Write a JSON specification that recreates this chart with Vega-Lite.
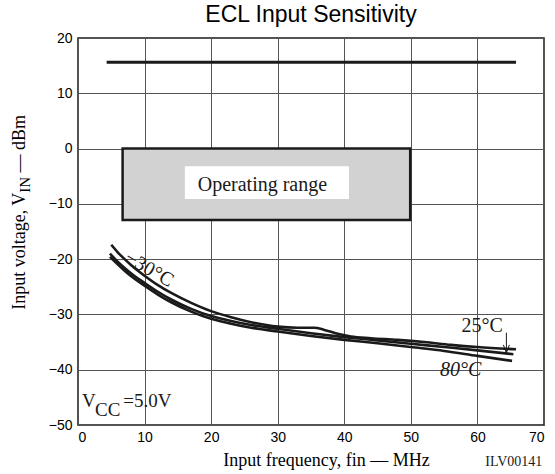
{
  "$schema": "https://vega.github.io/schema/vega-lite/v6.json",
  "width": 466,
  "height": 387,
  "autosize": {"type": "none"},
  "padding": {"left": 78, "top": 38, "right": 11, "bottom": 49},
  "background": "white",
  "title": {"text": "ECL Input Sensitivity", "font": "Liberation Sans", "fontSize": 23, "fontWeight": "normal", "color": "black", "anchor": "middle", "offset": 4},
  "config": {
    "view": {"stroke": "#1a1a1a", "strokeWidth": 1.5},
    "axis": {"domain": false, "ticks": false, "grid": true, "gridColor": "#555555", "gridWidth": 1, "gridOpacity": 1, "labelFont": "Liberation Sans", "labelFontSize": 14, "labelColor": "black"}
  },
  "datasets": {
    "curves": [
      {"f": 5, "v": -17.4, "s": "m30"}, {"f": 6, "v": -18.8, "s": "m30"}, {"f": 7, "v": -20.0, "s": "m30"}, {"f": 8, "v": -21.1, "s": "m30"}, {"f": 10, "v": -23.0, "s": "m30"}, {"f": 12, "v": -24.7, "s": "m30"}, {"f": 14, "v": -26.1, "s": "m30"}, {"f": 17, "v": -27.9, "s": "m30"}, {"f": 20, "v": -29.4, "s": "m30"}, {"f": 23, "v": -30.5, "s": "m30"}, {"f": 26, "v": -31.4, "s": "m30"}, {"f": 30, "v": -32.2, "s": "m30"}, {"f": 33, "v": -32.4, "s": "m30"}, {"f": 35.5, "v": -32.4, "s": "m30"}, {"f": 37, "v": -32.8, "s": "m30"}, {"f": 39, "v": -33.5, "s": "m30"}, {"f": 41, "v": -34.0, "s": "m30"}, {"f": 44, "v": -34.3, "s": "m30"}, {"f": 48, "v": -34.6, "s": "m30"}, {"f": 52, "v": -35.0, "s": "m30"}, {"f": 56, "v": -35.5, "s": "m30"}, {"f": 60, "v": -35.9, "s": "m30"}, {"f": 65.8, "v": -36.3, "s": "m30"},
      {"f": 4.8, "v": -19.0, "s": "p25"}, {"f": 6, "v": -20.5, "s": "p25"}, {"f": 7, "v": -21.6, "s": "p25"}, {"f": 8, "v": -22.6, "s": "p25"}, {"f": 10, "v": -24.3, "s": "p25"}, {"f": 12, "v": -25.9, "s": "p25"}, {"f": 14, "v": -27.3, "s": "p25"}, {"f": 17, "v": -29.0, "s": "p25"}, {"f": 20, "v": -30.3, "s": "p25"}, {"f": 23, "v": -31.2, "s": "p25"}, {"f": 26, "v": -31.9, "s": "p25"}, {"f": 30, "v": -32.6, "s": "p25"}, {"f": 35, "v": -33.4, "s": "p25"}, {"f": 40, "v": -34.1, "s": "p25"}, {"f": 45, "v": -34.7, "s": "p25"}, {"f": 50, "v": -35.3, "s": "p25"}, {"f": 55, "v": -35.9, "s": "p25"}, {"f": 60, "v": -36.5, "s": "p25"}, {"f": 65.4, "v": -37.2, "s": "p25"},
      {"f": 4.8, "v": -19.6, "s": "p80"}, {"f": 6, "v": -21.0, "s": "p80"}, {"f": 7, "v": -22.1, "s": "p80"}, {"f": 8, "v": -23.1, "s": "p80"}, {"f": 10, "v": -24.8, "s": "p80"}, {"f": 12, "v": -26.4, "s": "p80"}, {"f": 14, "v": -27.8, "s": "p80"}, {"f": 17, "v": -29.5, "s": "p80"}, {"f": 20, "v": -30.8, "s": "p80"}, {"f": 23, "v": -31.7, "s": "p80"}, {"f": 26, "v": -32.4, "s": "p80"}, {"f": 30, "v": -33.1, "s": "p80"}, {"f": 35, "v": -33.9, "s": "p80"}, {"f": 40, "v": -34.6, "s": "p80"}, {"f": 45, "v": -35.2, "s": "p80"}, {"f": 50, "v": -35.9, "s": "p80"}, {"f": 55, "v": -36.6, "s": "p80"}, {"f": 60, "v": -37.5, "s": "p80"}, {"f": 65.2, "v": -38.4, "s": "p80"}
    ]
  },
  "layer": [
    {
      "data": {"values": [{"x1": 6.7, "x2": 49.9, "y1": 0, "y2": -12.9}]},
      "mark": {"type": "rect", "fill": "#d2d2d2", "stroke": "#1a1a1a", "strokeWidth": 2.5},
      "encoding": {
        "x": {"field": "x1", "type": "quantitative", "scale": {"domain": [0, 70], "nice": false}, "axis": {"values": [0, 10, 20, 30, 40, 50, 60, 70], "labelPadding": 5, "title": "Input frequency,  fin — MHz", "titleFont": "Liberation Serif", "titleFontSize": 18, "titleFontWeight": "normal", "titleColor": "black", "titleX": 248, "titleY": 40, "titleBaseline": "alphabetic", "titleAlign": "center"}},
        "x2": {"field": "x2"},
        "y": {"field": "y1", "type": "quantitative", "scale": {"domain": [-50, 20], "nice": false}, "axis": {"values": [-50, -40, -30, -20, -10, 0, 10, 20], "labelPadding": 6, "title": null}},
        "y2": {"field": "y2"}
      }
    },
    {
      "data": {"values": [{"x1": 16.05, "x2": 40.7, "y1": -3.2, "y2": -9.1}]},
      "mark": {"type": "rect", "fill": "white", "strokeWidth": 0},
      "encoding": {
        "x": {"field": "x1", "type": "quantitative"},
        "x2": {"field": "x2"},
        "y": {"field": "y1", "type": "quantitative"},
        "y2": {"field": "y2"}
      }
    },
    {
      "data": {"values": [{"x1": 4.3, "x2": 65.8, "y": 15.6}]},
      "mark": {"type": "rule", "stroke": "#1a1a1a", "strokeWidth": 3},
      "encoding": {
        "x": {"field": "x1", "type": "quantitative"},
        "x2": {"field": "x2"},
        "y": {"field": "y", "type": "quantitative"}
      }
    },
    {
      "data": {"values": [
        {"x": 27.7, "y": -7.73, "t": "Operating range"},
        {"x": 60.7, "y": -33.15, "t": "25°C"}
      ]},
      "mark": {"type": "text", "font": "Liberation Serif", "fontSize": 20, "color": "#1a1a1a", "baseline": "alphabetic", "align": "center"},
      "encoding": {
        "x": {"field": "x", "type": "quantitative"},
        "y": {"field": "y", "type": "quantitative"},
        "text": {"field": "t"}
      }
    },
    {
      "data": {"values": [{"x": 57.5, "y": -41.1, "t": "80°C"}]},
      "mark": {"type": "text", "font": "Liberation Serif", "fontSize": 20, "fontStyle": "italic", "color": "#1a1a1a", "baseline": "alphabetic", "align": "center"},
      "encoding": {
        "x": {"field": "x", "type": "quantitative"},
        "y": {"field": "y", "type": "quantitative"},
        "text": {"field": "t"}
      }
    },
    {
      "data": {"values": [{"x": 69.75, "y": -57.4, "t": "ILV00141"}]},
      "mark": {"type": "text", "font": "Liberation Serif", "fontSize": 14, "color": "#1a1a1a", "baseline": "alphabetic", "align": "right"},
      "encoding": {
        "x": {"field": "x", "type": "quantitative"},
        "y": {"field": "y", "type": "quantitative"},
        "text": {"field": "t"}
      }
    },
    {
      "data": {"values": [
        {"x": 0.6, "y": -46.7, "t": "V"},
        {"x": 2.55, "y": -48.4, "t": "CC"},
        {"x": 6.8, "y": -46.7, "t": "=5.0V"}
      ]},
      "mark": {"type": "text", "font": "Liberation Serif", "fontSize": 19, "color": "#1a1a1a", "baseline": "alphabetic", "align": "left"},
      "encoding": {
        "x": {"field": "x", "type": "quantitative"},
        "y": {"field": "y", "type": "quantitative"},
        "text": {"field": "t"}
      }
    },
    {
      "data": {"values": [{"x": -8.7, "y": -7.97, "t": "Input voltage,  V"}]},
      "mark": {"type": "text", "font": "Liberation Serif", "fontSize": 18, "color": "black", "baseline": "middle", "align": "right", "angle": 270},
      "encoding": {
        "x": {"field": "x", "type": "quantitative"},
        "y": {"field": "y", "type": "quantitative"},
        "text": {"field": "t"}
      }
    },
    {
      "data": {"values": [{"x": -7.9, "y": -7.97, "t": "IN"}]},
      "mark": {"type": "text", "font": "Liberation Serif", "fontSize": 15, "color": "black", "baseline": "middle", "align": "left", "angle": 270},
      "encoding": {
        "x": {"field": "x", "type": "quantitative"},
        "y": {"field": "y", "type": "quantitative"},
        "text": {"field": "t"}
      }
    },
    {
      "data": {"values": [{"x": -8.7, "y": -4.35, "t": "— dBm"}]},
      "mark": {"type": "text", "font": "Liberation Serif", "fontSize": 18, "color": "black", "baseline": "middle", "align": "left", "angle": 270},
      "encoding": {
        "x": {"field": "x", "type": "quantitative"},
        "y": {"field": "y", "type": "quantitative"},
        "text": {"field": "t"}
      }
    },
    {
      "data": {"values": [{"x": 10.7, "y": -21.8, "t": "−30°C"}]},
      "mark": {"type": "text", "font": "Liberation Serif", "fontSize": 20, "color": "#1a1a1a", "baseline": "middle", "align": "center", "angle": 30},
      "encoding": {
        "x": {"field": "x", "type": "quantitative"},
        "y": {"field": "y", "type": "quantitative"},
        "text": {"field": "t"}
      }
    },
    {
      "data": {"name": "curves"},
      "mark": {"type": "line", "stroke": "#1a1a1a", "strokeWidth": 2.6, "interpolate": "monotone"},
      "encoding": {
        "x": {"field": "f", "type": "quantitative"},
        "y": {"field": "v", "type": "quantitative"},
        "detail": {"field": "s"}
      }
    },
    {
      "data": {"values": [{"x": 64.35, "y1": -33.3, "y2": -36.9}]},
      "mark": {"type": "rule", "stroke": "#1a1a1a", "strokeWidth": 1},
      "encoding": {
        "x": {"field": "x", "type": "quantitative"},
        "y": {"field": "y1", "type": "quantitative"},
        "y2": {"field": "y2"}
      }
    },
    {
      "data": {"values": [{"x": 64.35, "y": -36.96}]},
      "mark": {"type": "point", "shape": "M-1.5,-4L0,0L1.5,-4", "size": 16, "filled": false, "stroke": "#1a1a1a", "strokeWidth": 1, "opacity": 1},
      "encoding": {
        "x": {"field": "x", "type": "quantitative"},
        "y": {"field": "y", "type": "quantitative"}
      }
    }
  ]
}
